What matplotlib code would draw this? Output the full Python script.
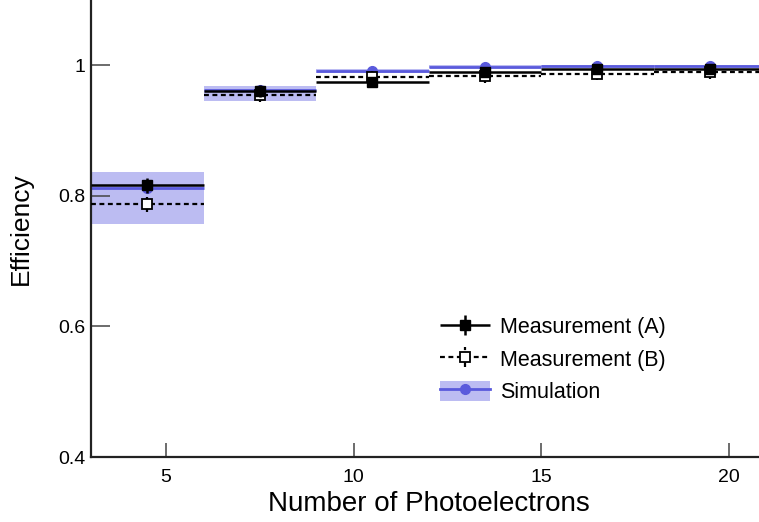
import matplotlib
matplotlib.use('Agg')
from matplotlib import pyplot as plt
from matplotlib.patches import Patch
from matplotlib.lines import Line2D
from matplotlib.legend_handler import HandlerErrorbar, HandlerTuple
import numpy as np

plt.rcParams['font.family'] = ['Liberation Sans', 'DejaVu Sans']

# bins in number of photoelectrons
bin_edges = [3, 6, 9, 12, 15, 18, 21]

meas_a = [0.816, 0.961, 0.974, 0.990, 0.994, 0.994]
meas_a_err = [0.012, 0.009, 0.008, 0.006, 0.005, 0.005]
meas_b = [0.787, 0.955, 0.982, 0.983, 0.987, 0.989]
meas_b_err = [0.012, 0.011, 0.009, 0.010, 0.010, 0.010]
sim = [0.812, 0.962, 0.992, 0.998, 0.9995, 0.9995]
sim_lo = [0.757, 0.946, 0.988, 0.996, 0.998, 0.998]
sim_hi = [0.836, 0.968, 0.995, 1.000, 1.001, 1.001]

edges = np.array(bin_edges, dtype=float)
centers = (edges[:-1] + edges[1:]) / 2
half = (edges[1:] - edges[:-1]) / 2

blue = '#5a5adc'
band = '#bcbcf2'

fig = plt.figure(figsize=(7.59, 5.22), dpi=100)
ax = fig.add_axes([91 / 759, 65 / 522, 675 / 759, 457 / 522])

# simulation band + line + dots
ax.bar(centers, np.array(sim_hi) - np.array(sim_lo), bottom=sim_lo,
       width=2 * half, color=band, linewidth=0, zorder=1)
ax.hlines(sim, edges[:-1], edges[1:], color=blue, lw=2, zorder=2)
ax.plot(centers, sim, 'o', color=blue, ms=7, zorder=2)

# measurement B (dashed, open squares)
hB = ax.errorbar(centers, meas_b, xerr=half, yerr=meas_b_err, fmt='s',
                 ms=6.5, mfc='white', mec='black', mew=1.3, ecolor='black',
                 elinewidth=1.6, zorder=3)
hB[2][0].set_linestyle((0, (2.2, 1.6)))

# measurement A (solid, filled squares)
hA = ax.errorbar(centers, meas_a, xerr=half, yerr=meas_a_err, fmt='s',
                 ms=6.5, mfc='black', mec='black', ecolor='black',
                 elinewidth=1.8, zorder=4)

ax.set_xlim(3, 21)
ax.set_ylim(0.4, 1.1)
ax.set_xticks([5, 10, 15, 20])
ax.set_yticks([0.4, 0.6, 0.8, 1.0])
ax.set_yticklabels(['0.4', '0.6', '0.8', '1'])
for s in ['top', 'right']:
    ax.spines[s].set_visible(False)
for s in ['left', 'bottom']:
    ax.spines[s].set_linewidth(1.6)
    ax.spines[s].set_color('#222222')
ax.tick_params(axis='x', direction='in', length=10, width=1.1, color='#444444',
               labelsize=14, pad=9)
ax.tick_params(axis='y', direction='in', length=13.5, width=1.1, color='#444444',
               labelsize=14, pad=4)

ax.set_xlabel('Number of Photoelectrons', fontsize=20, labelpad=3)
ax.set_ylabel('Efficiency', fontsize=19)
ax.yaxis.set_label_coords(-0.086, 0.5)

sim_handle = (Patch(facecolor=band, edgecolor='none'),
              Line2D([], [], color=blue, lw=2, marker='o', ms=7))
leg = ax.legend([hA, hB, sim_handle],
                ['Measurement (A)', 'Measurement (B)', 'Simulation'],
                handler_map={type(hA): HandlerErrorbar(xerr_size=1.16, yerr_size=0.46),
                             tuple: HandlerTuple(ndivide=1)},
                loc='upper left', bbox_to_anchor=(440 / 759, 1 - 316 / 522),
                bbox_transform=fig.transFigure, frameon=False, fontsize=15.5,
                borderpad=0, borderaxespad=0, handlelength=2.32,
                handleheight=1.07, handletextpad=0.46, labelspacing=0.46)

fig.savefig('out.png', dpi=100)
